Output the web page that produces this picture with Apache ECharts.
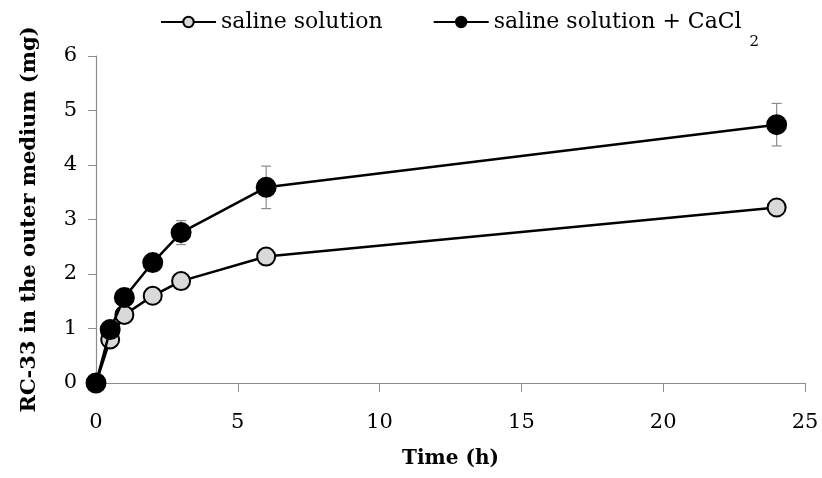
<!DOCTYPE html>
<html>
<head>
<meta charset="utf-8">
<script src="https://cdn.jsdelivr.net/npm/echarts@6/dist/echarts.min.js"></script>
<style>
  html, body { margin: 0; padding: 0; background: #fff; }
  #main { width: 822px; height: 478px; }
</style>
</head>
<body>
<div id="main"></div>
<script>
const times = [0, 0.5, 1, 2, 3, 6, 24];
const saline = [0, 0.8, 1.25, 1.6, 1.87, 2.32, 3.22];
const salineErr = [0, 0.05, 0.06, 0.08, 0.1, 0.14, 0.08];
const calcium = [0, 0.98, 1.57, 2.21, 2.76, 3.59, 4.74];
const calciumErr = [0, 0.06, 0.15, 0.15, 0.22, 0.39, 0.39];

const names = ['saline solution', 'saline solution + CaCl2'];
const font = '"DejaVu Serif", "Liberation Serif", serif';

const chart = echarts.init(document.getElementById('main'));

function errSeries(vals, errs) {
  return {
    type: 'custom',
    silent: true,
    z: 1,
    data: times.map((t, i) => [t, vals[i] - errs[i], vals[i] + errs[i]]),
    renderItem: function (params, api) {
      const lo = api.coord([api.value(0), api.value(1)]);
      const hi = api.coord([api.value(0), api.value(2)]);
      const w = 5;
      const st = { stroke: '#8c8c8c', lineWidth: 1.2 };
      return {
        type: 'group',
        children: [
          { type: 'line', shape: { x1: lo[0], y1: lo[1], x2: hi[0], y2: hi[1] }, style: st },
          { type: 'line', shape: { x1: hi[0] - w, y1: hi[1], x2: hi[0] + w, y2: hi[1] }, style: st },
          { type: 'line', shape: { x1: lo[0] - w, y1: lo[1], x2: lo[0] + w, y2: lo[1] }, style: st }
        ]
      };
    }
  };
}

chart.setOption({
  animation: false,
  grid: { left: 96, right: 17, top: 56, bottom: 95 },
  legend: {
    top: 11,
    left: 160,
    padding: 0,
    itemGap: 50,
    itemWidth: 55,
    itemHeight: 13,
    data: names,
    textStyle: {
      fontFamily: font,
      fontSize: 22,
      color: '#000',
      rich: {
        t: { fontFamily: font, fontSize: 22, color: '#000' },
        s: { fontFamily: font, fontSize: 15, color: '#000', padding: [40, 0, 0, 8] }
      }
    },
    formatter: function (n) {
      if (n === names[1]) return '{t|saline solution + CaCl}{s|2}';
      return '{t|' + n + '}';
    }
  },
  xAxis: {
    type: 'value',
    min: 0, max: 25, interval: 5,
    name: 'Time (h)',
    nameLocation: 'middle',
    nameGap: 66,
    nameTextStyle: { fontFamily: font, fontSize: 20, fontWeight: 'bold', color: '#000' },
    axisLine: { lineStyle: { color: '#8c8c8c', width: 1.2 } },
    axisTick: { show: true, length: 9, lineStyle: { color: '#8c8c8c' } },
    axisLabel: { fontFamily: font, fontSize: 21, color: '#000', margin: 29 },
    splitLine: { show: false }
  },
  yAxis: {
    type: 'value',
    min: 0, max: 6, interval: 1,
    name: 'RC-33 in the outer medium (mg)',
    nameLocation: 'middle',
    nameGap: 56,
    nameTextStyle: { fontFamily: font, fontSize: 21, fontWeight: 'bold', color: '#000' },
    axisLine: { show: true, lineStyle: { color: '#8c8c8c', width: 1.2 } },
    axisTick: { show: true, length: 8, lineStyle: { color: '#8c8c8c' } },
    axisLabel: { fontFamily: font, fontSize: 21, color: '#000', margin: 19 },
    splitLine: { show: false }
  },
  series: [
    errSeries(saline, salineErr),
    errSeries(calcium, calciumErr),
    {
      name: names[0],
      type: 'line',
      z: 3,
      data: times.map((t, i) => [t, saline[i]]),
      symbol: 'circle',
      symbolSize: 18,
      lineStyle: { color: '#000', width: 2.5 },
      itemStyle: { color: '#d9d9d9', borderColor: '#000', borderWidth: 2 }
    },
    {
      name: names[1],
      type: 'line',
      z: 4,
      data: times.map((t, i) => [t, calcium[i]]),
      symbol: 'circle',
      symbolSize: 19,
      lineStyle: { color: '#000', width: 2.5 },
      itemStyle: { color: '#000', borderColor: '#000', borderWidth: 2 }
    }
  ]
});
</script>
</body>
</html>
